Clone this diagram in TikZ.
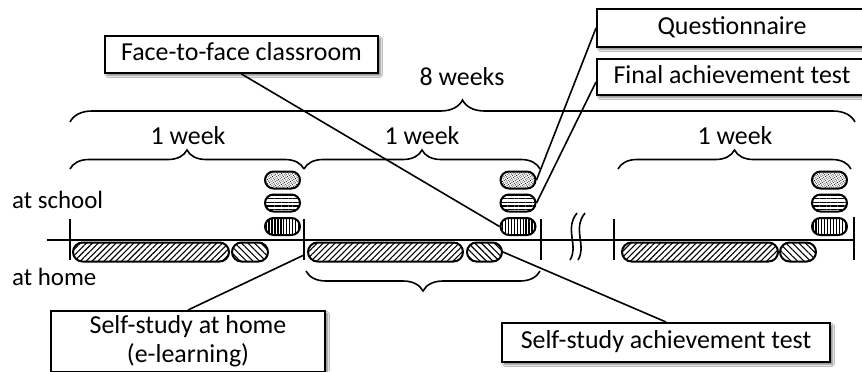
\documentclass[tikz,border=0pt]{standalone}
\usepackage{fontspec}
\setmainfont{Carlito}
\usetikzlibrary{shapes.misc,patterns.meta,decorations.pathreplacing,shadows.blur,calc}
\begin{document}
\begin{tikzpicture}[x=1bp,y=-1bp,
  txt/.style={font=\fontsize{26}{29}\selectfont, inner sep=0pt},
  sidetxt/.style={font=\fontsize{25}{28}\selectfont, inner sep=0pt},
  capsule/.style={rounded rectangle, draw, line width=2bp, inner sep=0pt},
  homecap/.style={capsule, minimum height=19bp},
  longcap/.style={homecap, pattern={Lines[angle=45,distance=4.2pt,line width=1.1pt]}},
  shortcap/.style={homecap, pattern={Lines[angle=-45,distance=4.6pt,line width=1.1pt]}},
  schoolcap/.style={capsule, minimum height=17bp, minimum width=35bp},
  dotcap/.style={schoolcap, pattern={Dots[radius=0.55pt,distance=1.9pt,angle=30]}},
  hcap/.style={schoolcap, pattern={Lines[angle=0,distance=3.6pt,line width=1.1pt]}},
  vcap/.style={schoolcap, pattern={Lines[angle=90,distance=3pt,line width=1.1pt]}},
  labelbox/.style={draw, line width=2bp, fill=white, font=\fontsize{26}{29}\selectfont,
    inner sep=0pt, text height=18bp, text depth=6bp, align=center,
    blur shadow={shadow xshift=2.5pt, shadow yshift=-2.5pt, shadow blur steps=6, shadow opacity=50}},
  conn/.style={line width=1.6bp},
  bracestyle/.style={line width=1.6bp, decorate},
  tick/.style={line width=1.6bp}
]
\path[use as bounding box, fill=white] (0,0) rectangle (862,371);

% timeline
\draw[line width=2bp] (47,240) -- (854,240);
\draw[tick] (70,219) -- (70,260);
\draw[tick] (304,219) -- (304,260);
\draw[tick] (541,219) -- (541,260);
\draw[tick] (614,219) -- (614,260);
\draw[tick] (854,217) -- (854,260);
% break mark
\draw[line width=1.6bp] (577,213) .. controls (564,229) and (579,246) .. (570,260);
\draw[line width=1.6bp] (585,213) .. controls (572,229) and (587,246) .. (578,260);

% home capsules
\node[longcap, minimum width=156bp] (l1) at (151,252) {};
\node[shortcap, minimum width=36bp] (s1) at (250,252) {};
\node[longcap, minimum width=155bp] (l2) at (385.5,252) {};
\node[shortcap, minimum width=35bp] (s2) at (484.5,252) {};
\node[longcap, minimum width=156bp] (l3) at (700,252) {};
\node[shortcap, minimum width=36bp] (s3) at (798,252) {};

% school capsules
\node[dotcap] (d1) at (282.5,180) {};
\node[hcap] (h1) at (282.5,203) {};
\node[vcap] (v1) at (282.5,226.5) {};
\node[dotcap] (d2) at (518,180) {};
\node[hcap] (h2) at (518,203) {};
\node[vcap] (v2) at (518,226.5) {};
\node[dotcap] (d3) at (829.5,180) {};
\node[hcap] (h3) at (829.5,203) {};
\node[vcap] (v3) at (829.5,226.5) {};

% braces
\draw[bracestyle, decoration={brace, amplitude=22bp}] (70,122) -- (855,122);
\draw[bracestyle, decoration={brace, amplitude=19bp}] (70,169) -- (304,169);
\draw[bracestyle, decoration={brace, amplitude=19bp}] (304,169) -- (540,169);
\draw[bracestyle, decoration={brace, amplitude=19bp}] (618,169) -- (851,169);
\draw[bracestyle, decoration={brace, amplitude=20bp, mirror}] (306,271) -- (540,271);

% texts
\node[txt, anchor=base] (w8) at (462,85) {8 weeks};
\node[txt, anchor=base] (w1) at (188,144) {1 week};
\node[txt, anchor=base] (w2) at (422,144) {1 week};
\node[txt, anchor=base] (w3) at (735,144) {1 week};
\node[sidetxt, anchor=base west] (sch) at (12,208) {at school};
\node[sidetxt, anchor=base west] (hom) at (12,285) {at home};

% label boxes
\node[labelbox, minimum width=273bp, minimum height=37bp] (ftf) at (241.5,54.5) {Face-to-face classroom};
\node[labelbox, minimum width=270bp, minimum height=38bp] (q) at (732,28) {Questionnaire};
\node[labelbox, minimum width=270bp, minimum height=36bp] (fat) at (732,77) {Final achievement test};
\node[labelbox, minimum width=274bp, minimum height=61bp, text height=, text depth=] (ssh) at (188,341.5)
  {\rule{0pt}{18bp}Self-study at home\\(e-learning)\rule[-5bp]{0pt}{5bp}};
\node[labelbox, minimum width=328bp, minimum height=39bp] (sat) at (666,342.5) {Self-study achievement test};

% connectors
\coordinate (t2) at (304,255);
\draw[conn] (ftf.south) -- (v2.west);
\draw[conn] (q.west) -- (d2.east);
\draw[conn] ($(fat.west)+(0,5)$) -- (h2.east);
\draw[conn] (ssh.north) -- (t2);
\draw[conn] (sat.north) -- (s2.east);
\end{tikzpicture}
\end{document}
